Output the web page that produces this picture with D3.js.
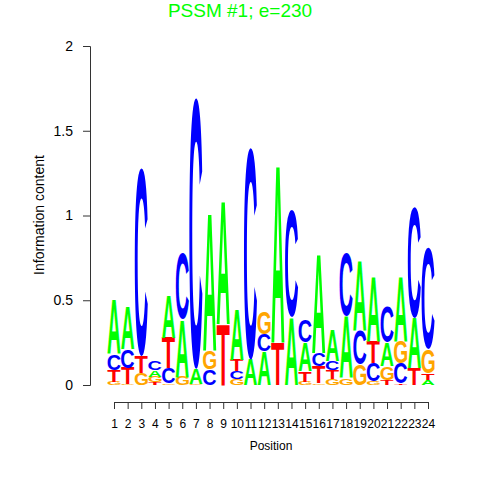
<!DOCTYPE html>
<html>
<head>
<meta charset="utf-8">
<script src="https://cdn.jsdelivr.net/npm/d3@7"></script>
<style>
body { margin: 0; background: #fff; }
svg { display: block; font-family: "Liberation Sans", Arial, sans-serif; }
</style>
</head>
<body>
<script>
// letter heights in bits, one entry per position 1..24
var positions = d3.range(1, 25);
var bitsA = [0.32,0.25,0,0.04,0.25,0.34,0.09,0.81,0.73,0.30,0.15,0.20,1.05,0.40,0.17,0.58,0.18,0.37,0.41,0.38,0.14,0.38,0.30,0.03];
var bitsC = [0.09,0.11,1.11,0.055,0.09,0.39,1.60,0.09,0,0.045,1.25,0.10,0,0.63,0.13,0.08,0.055,0.37,0.20,0.11,0.21,0.12,0.65,0.60];
var bitsG = [0.02,0.005,0.07,0.035,0.01,0.05,0.005,0.11,0,0.035,0,0.13,0,0,0.02,0.01,0.035,0.04,0.12,0.02,0.08,0.13,0,0.14];
var bitsT = [0.07,0.095,0.10,0.015,0.18,0,0,0,0.36,0.07,0,0,0.25,0,0.06,0.10,0.05,0,0,0.13,0.03,0.01,0.10,0.04];
// stacking order bottom -> top as seen in the logo
var stackOrder = ["GTCA","GTCA","AGTC","TGAC","GCTA","TGAC","GTAC","TCGA","CGTA","GCTA","GTAC","TACG",
                  "CGTA","GTAC","GTAC","GTCA","GTCA","TGAC","TGCA","GCTA","TGAC","TCGA","GTAC","ATGC"];
var yTicks = [0, 0.5, 1, 1.5, 2];
var bits = {A: bitsA, C: bitsC, G: bitsG, T: bitsT};
var colors = {A: "#00ff00", C: "#0000ff", G: "#ffa500", T: "#ff0000"};

var svg = d3.select("body").append("svg")
    .attr("width", 480)
    .attr("height", 480);

var x = d3.scaleLinear().domain([1, 24]).range([114, 428]);
var y = d3.scaleLinear().domain([0, 2]).range([385, 46]);
var step = x(2) - x(1);
var letterW = step * 0.96;

// ink box of each glyph, measured once on a canvas
var font = "bold 100px 'Liberation Sans'";
var ctx = document.createElement("canvas").getContext("2d");
ctx.font = font;
var ink = {};
"ACGT".split("").forEach(function(l) {
  var m = ctx.measureText(l);
  ink[l] = {left: m.actualBoundingBoxLeft, right: m.actualBoundingBoxRight,
            asc: m.actualBoundingBoxAscent, desc: m.actualBoundingBoxDescent};
});

var letters = [];
positions.forEach(function(p, i) {
  var base = 0;
  stackOrder[i].split("").forEach(function(l) {
    var h = bits[l][i];
    if (h > 0) letters.push({pos: p, letter: l, y0: base, y1: base + h});
    base += h;
  });
});

svg.append("g").selectAll("text")
  .data(letters)
  .enter().append("text")
    .attr("font-weight", "bold")
    .attr("font-size", 100)
    .attr("fill", function(d) { return colors[d.letter]; })
    .attr("transform", function(d) {
      var b = ink[d.letter];
      var sx = letterW / (b.left + b.right);
      var sy = (y(d.y0) - y(d.y1)) / (b.asc + b.desc);
      return "translate(" + (x(d.pos) - letterW / 2) + "," + y(d.y1) + ") scale(" + sx + "," + sy + ") translate(" + b.left + "," + b.asc + ")";
    })
    .text(function(d) { return d.letter; });

var yAxis = d3.axisLeft(y).tickValues(yTicks).tickSize(7).tickPadding(10).tickFormat(function(d) { return d; });
var gy = svg.append("g")
    .attr("transform", "translate(90,0)")
    .call(yAxis);
gy.selectAll("text").attr("font-size", 14).attr("fill", "#000").attr("font-family", "Liberation Sans");

var xAxis = d3.axisBottom(x).tickValues(positions).tickSize(7).tickPadding(10).tickFormat(function(d) { return d; });
var gx = svg.append("g")
    .attr("transform", "translate(0,402)")
    .call(xAxis);
gx.selectAll("text").attr("font-size", 12).attr("fill", "#000").attr("font-family", "Liberation Sans");
svg.selectAll(".domain, .tick line").attr("stroke", "#333");

svg.append("text")
    .attr("x", 240)
    .attr("y", 17)
    .attr("text-anchor", "middle")
    .attr("font-size", 19)
    .attr("fill", "#00ff00")
    .text("PSSM #1; e=230");

svg.append("text")
    .attr("x", 271)
    .attr("y", 450)
    .attr("text-anchor", "middle")
    .attr("font-size", 12)
    .text("Position");

svg.append("text")
    .attr("transform", "translate(44,215) rotate(-90)")
    .attr("text-anchor", "middle")
    .attr("font-size", 14)
    .text("Information content");
</script>
</body>
</html>
